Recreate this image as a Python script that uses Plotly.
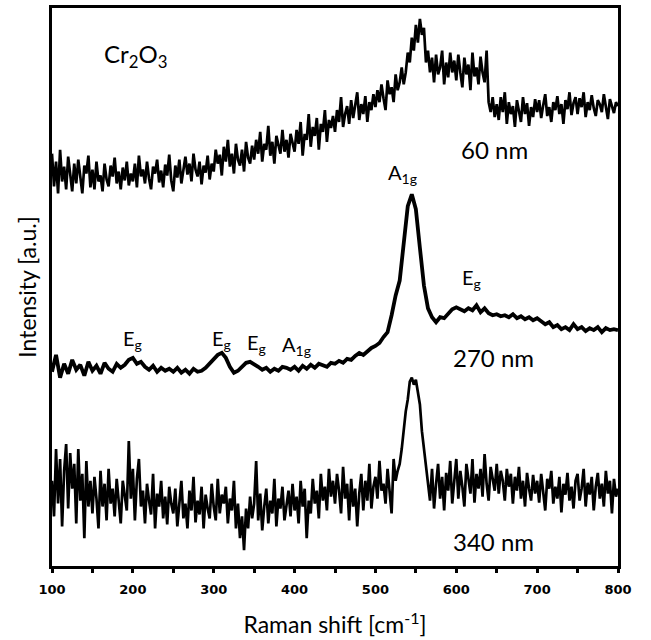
import plotly.graph_objects as go

# Raman shift axes (cm^-1)
shift_fine = [100 + 2.5 * i for i in range(281)]      # 100 .. 800 step 2.5
shift_coarse = list(range(100, 805, 5))               # 100 .. 800 step 5

# Intensity (a.u., offset-stacked as in the figure)
int_60nm = [
    448, 415, 440, 408, 452, 420, 435, 412, 445, 425, 410, 438, 418, 442, 422, 408, 436, 428, 446, 414,
    432, 412, 440, 420, 426, 410, 438, 422, 415, 436, 425, 444, 418, 430, 412, 434, 421, 440, 416, 428,
    420, 438, 414, 446, 425, 432, 418, 440, 423, 412, 435, 428, 442, 419, 431, 414, 437, 426, 447, 421,
    410, 436, 424, 442, 418, 430, 445, 427, 438, 420, 448, 432, 425, 440, 417, 436, 429, 446, 422, 438,
    430, 452, 438, 447, 426, 455, 440, 462, 435, 448, 428, 458, 442, 436, 452, 430, 460, 444, 438, 456,
    442, 462, 448, 470, 440, 458, 452, 476, 446, 460, 438, 466, 455, 448, 472, 450, 462, 444, 468, 457,
    450, 472, 458, 480, 446, 468, 462, 488, 455, 475, 466, 484, 452, 478, 470, 492, 460, 482, 474, 486,
    470, 492, 480, 505, 475, 488, 496, 478, 502, 484, 495, 510, 482, 498, 488, 506, 480, 500, 492, 508,
    495, 512, 500, 518, 504, 492, 522, 508, 515, 500, 528, 512, 520, 535, 518, 530, 550, 540, 565, 552,
    578, 560, 584, 568, 575, 540, 552, 530, 545, 520, 548, 528, 535, 552, 518, 540, 525, 550, 530, 542,
    522, 548, 530, 515, 545, 528, 538, 512, 550, 526, 535, 518, 546, 530, 520, 552, 500, 490, 505, 485,
    498, 482, 505, 490, 510, 478, 500, 488, 496, 475, 502, 492, 480, 505, 488, 499, 476, 495, 485, 503,
    490, 502, 484, 497, 508, 486, 495, 480, 500, 492, 506, 488, 498, 478, 502, 493, 510, 487, 499, 505,
    488, 504, 495, 510, 485, 500, 492, 507, 494, 486, 502, 498, 490, 508, 495, 483, 503, 497, 489, 500,
    496,
]

int_270nm = [
    228, 245, 222, 236, 226, 240, 230, 235, 224, 238,
    229, 234, 226, 237, 231, 228, 236, 232, 235, 240,
    242, 236, 238, 233, 230, 234, 228, 232, 229, 231,
    228, 232, 227, 230, 226, 231, 228, 229, 232, 236,
    240, 245, 247, 242, 233, 227, 229, 233, 237, 238,
    236, 233, 230, 232, 228, 231, 229, 233, 232, 230,
    233, 229, 234, 231, 235, 232, 236, 234, 233, 237,
    236, 239, 237, 241, 240, 244, 247, 245, 249, 252,
    254, 257, 263, 268, 285, 305, 320, 360, 395, 407,
    392, 353, 315, 292, 283, 278, 283, 282, 287, 291,
    293, 291, 289, 292, 290, 295, 288, 292, 287, 285,
    286, 284, 285, 283, 286, 282, 284, 281, 283, 280,
    282, 279, 276, 278, 273, 275, 271, 273, 270, 276,
    271, 273, 269, 272, 270, 273, 268, 272, 270, 271,
    270,
]

int_340nm = [
    118, 82, 150, 95, 140, 72, 128, 155, 90, 146, 110, 135, 75, 150, 98, 125, 60, 138, 92, 118,
    85, 122, 100, 70, 128, 92, 115, 78, 130, 95, 110, 82, 120, 98, 75, 118, 104, 88, 158, 100,
    130, 78, 120, 140, 92, 108, 75, 115, 98, 84, 125, 70, 105, 92, 118, 80, 102, 74, 112, 95,
    85, 110, 72, 100, 118, 80, 95, 70, 108, 88, 122, 76, 98, 84, 112, 70, 104, 90, 80, 115,
    92, 78, 120, 85, 104, 95, 112, 75, 100, 88, 118, 70, 95, 60, 82, 48, 90, 70, 102, 80,
    95, 138, 78, 105, 68, 92, 110, 75, 98, 85, 120, 72, 100, 90, 112, 78, 95, 108, 82, 115,
    88, 102, 75, 118, 92, 110, 60, 98, 85, 120, 95, 108, 80, 125, 98, 112, 88, 130, 102, 118,
    95, 125, 108, 85, 132, 100, 115, 78, 120, 92, 110, 72, 105, 125, 88, 118, 98, 135, 90, 112,
    122, 100, 138, 108, 115, 95, 130, 110, 85, 140, 118, 128, 135, 150, 170, 188, 200, 218, 222, 215,
    220, 205, 195, 168, 150, 138, 120, 98, 130, 90, 115, 135, 100, 122, 88, 126, 108, 138, 95, 120,
    140, 100, 128, 112, 92, 135, 118, 105, 140, 96, 125, 110, 130, 102, 145, 115, 98, 132, 120, 108,
    135, 105, 128, 118, 98, 130, 112, 125, 95, 122, 108, 132, 100, 118, 92, 126, 110, 98, 124, 105,
    118, 96, 125, 105, 88, 120, 110, 128, 95, 112, 100, 122, 86, 115, 104, 126, 98, 112, 90, 118,
    125, 98, 110, 130, 92, 116, 104, 122, 88, 112, 126, 100, 115, 92, 128, 105, 118, 85, 120, 102,
    110,
]

x_tick_vals = [100, 200, 300, 400, 500, 600, 700, 800]
x_tick_text = ["100", "200", "300", "400", "500", "600", "700", "800"]
x_minor_vals = [150, 250, 350, 450, 550, 650, 750]

# Labels: (text, x, y, size)
labels = [
    ("Cr<sub>2</sub>O<sub>3</sub>", 203, 547, 24),
    ("60 nm", 647, 452, 24),
    ("A<sub>1g</sub>", 534, 428, 20),
    ("E<sub>g</sub>", 619, 322, 20),
    ("270 nm", 646, 242, 24),
    ("340 nm", 646, 57, 24),
    ("E<sub>g</sub>", 200, 261, 20),
    ("E<sub>g</sub>", 310, 261, 20),
    ("E<sub>g</sub>", 353, 256, 20),
    ("A<sub>1g</sub>", 402, 254, 20),
]

FONT = "Lato"

fig = go.Figure()
for xs, series, w in ((shift_fine, int_60nm, 2.7),
                      (shift_coarse, int_270nm, 3.8),
                      (shift_fine, int_340nm, 2.7)):
    fig.add_trace(go.Scatter(
        x=xs, y=series, mode="lines",
        line=dict(color="black", width=w),
        showlegend=False, hoverinfo="skip",
    ))

for text, x, y, size in labels:
    fig.add_annotation(
        x=x, y=y, xref="x", yref="y", text=text, showarrow=False,
        font=dict(family=FONT, size=size, color="black"),
    )

fig.update_layout(
    width=651, height=640,
    margin=dict(l=52, r=33, t=5, b=72),
    paper_bgcolor="white", plot_bgcolor="white",
    xaxis=dict(
        range=[100, 800], showgrid=False, zeroline=False,
        showline=True, linecolor="black", linewidth=3, mirror=True,
        tickmode="array", tickvals=x_tick_vals, ticktext=x_tick_text,
        ticks="outside", ticklen=4, tickwidth=3, tickcolor="black",
        ticklabelstandoff=5,
        minor=dict(tickvals=x_minor_vals,
                   ticks="outside", ticklen=4, tickwidth=3, tickcolor="black"),
        tickfont=dict(family="DejaVu Sans", size=13, color="black", weight="bold"),
        title=dict(text="Raman shift [cm<sup>-1</sup>]",
                   font=dict(family=FONT, size=23, color="black"), standoff=22),
    ),
    yaxis=dict(
        range=[32, 595], showgrid=False, zeroline=False,
        showline=True, linecolor="black", linewidth=3, mirror=True,
        showticklabels=False, ticks="",
        title=dict(text="Intensity [a.u.]",
                   font=dict(family=FONT, size=23, color="black"), standoff=6),
    ),
)

fig.write_html("out.html", config={"displayModeBar": False},
               post_script="document.body.style.margin='0';")
